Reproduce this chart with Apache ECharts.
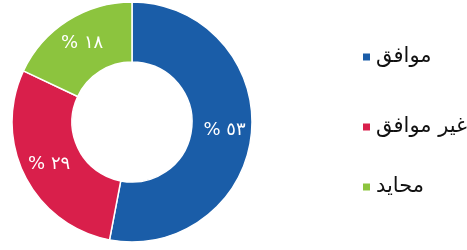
<!DOCTYPE html>
<html>
<head>
<meta charset="utf-8">
<script src="https://cdn.jsdelivr.net/npm/echarts@6/dist/echarts.min.js"></script>
<style>
html,body{margin:0;padding:0;background:#fff;}
#chart{width:467px;height:250px;}
</style>
</head>
<body>
<div id="chart"></div>
<script>
// الفئات والقيم
var categories = ['موافق', 'غير موافق', 'محايد'];
var values = [53, 29, 18];
var labels = ['% ٥٣', '% ٢٩', '% ١٨'];
var colors = ['#1a5da8', '#d91f4b', '#8cc43e'];
var legendTops = [52, 122, 182];

var myChart = echarts.init(document.getElementById('chart'));

var legends = categories.map(function(name, i){
	return {
		orient: 'vertical',
		left: 356,
		top: legendTops[i] - 11,
		itemWidth: 9,
		itemHeight: 9,
		itemGap: 8,
		icon: 'rect',
		data: [name],
		textStyle: {
			color: '#111',
			fontSize: 21,
			lineHeight: 22,
			fontFamily: 'DejaVu Sans'
		}
	};
});

var option = {
	animation: false,
	color: colors,
	legend: legends,
	series: [{
		type: 'pie',
		center: [132, 122],
		radius: [60, 120],
		startAngle: 90,
		clockwise: true,
		silent: true,
		itemStyle: {
			borderColor: '#fff',
			borderWidth: 1.5
		},
		label: {
			position: 'inside',
			color: '#fff',
			fontSize: 18,
			fontFamily: 'DejaVu Sans',
			formatter: function(p){ return labels[p.dataIndex]; }
		},
		labelLine: {show: false},
		data: categories.map(function(name, i){
			return {name: name, value: values[i]};
		})
	}]
};
myChart.setOption(option);
</script>
</body>
</html>
